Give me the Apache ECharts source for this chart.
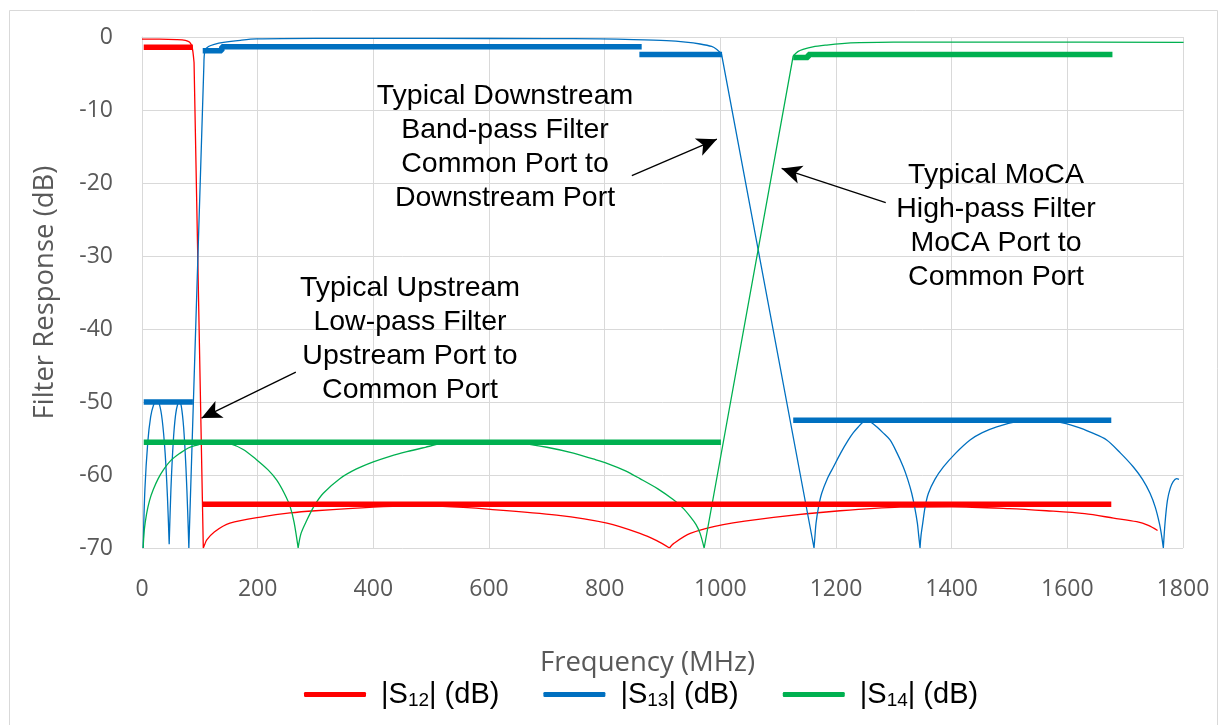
<!DOCTYPE html>
<html>
<head>
<meta charset="utf-8">
<script src="https://cdn.jsdelivr.net/npm/echarts@6/dist/echarts.min.js"></script>
<style>
html,body{margin:0;padding:0;background:#fff;}
#c{width:1223px;height:725px;}
</style>
</head>
<body>
<div id="c"></div>
<script>
// ---------- DATA ----------
var seriesNames = ['S12', 'S13', 'S14'];
var xTicks = [0, 200, 400, 600, 800, 1000, 1200, 1400, 1600, 1800];
var yTicks = [0, -10, -20, -30, -40, -50, -60, -70];

// measured curves (thin), ['-','-'] marks a break between segments
var s12Measured = [[0,-0.3],[30,-0.3],[60,-0.35],[75,-0.45],[82,-0.7],[86,-1.2],[88,-2],[90,-3.5],['-','-'],
  [90,-3.5],[106,-70],['-','-'],
  [106,-70],[108,-69.6],[112,-68.9],[125,-67.8],[152,-66.6],[210,-65.7],[256,-65.2],[300,-64.9],[400,-64.4],[460,-64.25],[520,-64.3],[602,-64.7],[717,-65.5],[804,-66.6],[861,-68],[890,-69],[912,-70],['-','-'],
  [912,-70],[919,-69.4],[948,-68],[1005,-66.8],[1092,-65.8],[1207,-64.9],[1311,-64.4],[1400,-64.35],[1500,-64.6],[1564,-64.9],[1630,-65.3],[1680,-65.9],[1720,-66.4],[1740,-66.9],[1756,-67.6]];

var s13Measured = [[2,-70],[5,-62],[10,-55.5],[15,-52],[20,-50.4],[25,-49.8],[30,-50.3],[35,-52.5],[40,-57],[44,-63],[47,-69.5],['-','-'],
  [47,-69.5],[50,-62],[54,-55.5],[58,-51.8],[62,-50.2],[65,-50],[68,-50.6],[72,-53.5],[76,-59],[79,-65],[81,-70],['-','-'],
  [81,-70],[107,-3.8],['-','-'],
  [107,-3.8],[109,-1.8],[115,-1.3],[125,-1],[141,-0.73],[170,-0.45],[198,-0.27],[300,-0.2],[500,-0.2],[700,-0.22],[792,-0.26],[850,-0.35],[907,-0.5],[940,-0.7],[965,-0.96],[985,-1.3],[994,-1.7],[1002,-2.3],['-','-'],
  [1002,-2.3],[1162,-70],['-','-'],
  [1162,-70],[1163.5,-68.5],[1165.5,-66.6],[1170,-64.3],[1175.3,-62.5],[1185,-60.5],[1195.5,-58.9],[1208,-57],[1221.4,-55.2],[1230,-54.2],[1238.7,-53.4],[1246,-52.8],[1253,-52.55],[1261,-52.8],[1270.4,-53.4],[1281,-54.2],[1293.4,-55.2],[1305,-56.9],[1316.4,-58.9],[1324,-60.6],[1330.9,-62.5],[1336,-64.4],[1340.7,-66.6],[1343,-68.3],[1345.3,-70],['-','-'],
  [1345.3,-70],[1347,-68.3],[1350,-66.6],[1354,-64.4],[1359.8,-62.5],[1371,-60.6],[1385.7,-58.9],[1407,-57],[1431.8,-55.2],[1453,-54.2],[1477.9,-53.4],[1512,-52.7],[1547,-52.4],[1582,-52.7],[1616.2,-53.4],[1642,-54.2],[1668,-55.2],[1692,-57],[1714.2,-58.9],[1730,-60.6],[1743,-62.5],[1752,-64.4],[1759.1,-66.6],[1763,-68.3],[1766,-70],['-','-'],
  [1766,-70],[1769,-66.5],[1773,-63.5],[1778,-61.8],[1783,-60.9],[1789,-60.5],[1793,-60.6]];

var s14Measured = [[2,-70],[4,-67.5],[8,-65.3],[13,-63.5],[19.5,-62],[28,-60.5],[37,-59.3],[50,-58],[66,-57],[80,-56.3],[95,-55.9],[112,-55.5],[130,-55.5],[152,-55.7],[175,-56.5],[198,-57.9],[218,-59.3],[233,-60.7],[246,-62.5],[256,-64.3],[263,-66.5],[270,-70],['-','-'],
  [270,-70],[275,-68],[285,-66.2],[298,-64.2],[313.5,-62.5],[342,-60.5],[370,-59.2],[400,-58.2],[430,-57.4],[458,-56.8],[490,-56.2],[515,-55.75],[545,-55.55],[573,-55.5],[615,-55.5],[659,-55.7],[700,-56.2],[746,-57],[780,-57.8],[804,-58.4],[835,-59.4],[861,-60.5],[892,-61.9],[919,-63.4],[935,-64.5],[948,-65.7],[958,-66.8],[965,-68],[972,-70],['-','-'],
  [972,-70],[1126,-2.6],['-','-'],
  [1126,-2.6],[1134,-2],[1143,-1.7],[1160,-1.35],[1184,-1.1],[1210,-0.9],[1241,-0.78],[1299,-0.7],[1500,-0.7],[1801,-0.73]];

// typical limits (thick)
var s12Limit = [[3,-1.4],[88,-1.4],['-','-'],[105,-64],[1676,-64]];
var s13Limit = [[3,-50],[88,-50],['-','-'],[105,-1.9],[138,-1.9],[138,-1.35],[864,-1.35],['-','-'],[860,-2.4],[1003,-2.4],['-','-'],[1126,-52.5],[1676,-52.5]];
var s14Limit = [[3,-55.5],[1001,-55.5],['-','-'],[1126,-2.8],[1152,-2.8],[1152,-2.4],[1678,-2.4]];

// annotations: [tail], [head] in data units
var arrowDown = [[847,-19.0],[994,-14.0]];
var arrowMoca = [[1286,-22.7],[1106,-18.0]];
var arrowUp = [[266,-45.9],[103,-52.2]];
var noteDown = ['Typical Downstream','Band-pass Filter','Common Port to','Downstream Port'];
var noteMoca = ['Typical MoCA','High-pass Filter','MoCA Port to','Common Port'];
var noteUp = ['Typical Upstream','Low-pass Filter','Upstream Port to','Common Port'];

var colors = {S12:'#FF0000', S13:'#0070C0', S14:'#00B050'};
var labelFont = '"Open Sans", "Liberation Sans", sans-serif';
var noteFont = '"Liberation Sans", Arial, sans-serif';

// ---------- CHART ----------
var chart = echarts.init(document.getElementById('c'), null, {renderer:'canvas'});

function thin(name, data){
  return {name:name, type:'line', data:data, showSymbol:false, symbol:'none', smooth:0.3,
    connectNulls:false, lineStyle:{width:1.3, color:colors[name]}, itemStyle:{color:colors[name]},
    z:3, animation:false, silent:true};
}
function thick(name, data){
  return {name:name+'_limit', type:'line', data:data, showSymbol:false, symbol:'none',
    connectNulls:false, lineStyle:{width:5.5, color:colors[name], cap:'butt'}, itemStyle:{color:colors[name]},
    z:4, animation:false, silent:true};
}
function arrowLine(pts){
  return [{coord:pts[0], symbol:'none'}, {coord:pts[1], symbol:'arrow'}];
}
function note(lines, cx, cy){
  return {type:'text', x:cx, y:cy, style:{text:lines.join('\n'), font:'28.5px '+noteFont,
    fill:'#000', textAlign:'center', textVerticalAlign:'middle', lineHeight:34}, z:10, silent:true};
}

var option = {
  backgroundColor:'#fff',
  animation:false,
  grid:{left:142, right:40, top:37, bottom:177, containLabel:false},
  xAxis:{type:'value', min:0, max:1800, interval:200,
    name:'Frequency (MHz)', nameLocation:'middle', nameGap:101,
    nameTextStyle:{fontFamily:labelFont, fontSize:27.5, color:'#595959', padding:[0,30,0,0]},
    axisLine:{show:true, lineStyle:{color:'#d9d9d9', width:1}},
    axisTick:{show:false},
    axisLabel:{margin:30, fontFamily:labelFont, fontSize:23, color:'#595959',
      formatter:function(v){ return xTicks.indexOf(v)>=0 ? String(v) : ''; }},
    splitLine:{show:true, lineStyle:{color:'#d9d9d9', width:1}}
  },
  yAxis:{type:'value', min:-70, max:0, interval:10,
    name:'Filter Response (dB)', nameLocation:'middle', nameGap:83, nameRotate:90,
    nameTextStyle:{fontFamily:labelFont, fontSize:27.5, color:'#595959'},
    axisLine:{show:true, lineStyle:{color:'#d9d9d9', width:1}},
    axisTick:{show:false},
    axisLabel:{margin:29, fontFamily:labelFont, fontSize:23, color:'#595959',
      formatter:function(v){ return yTicks.indexOf(v)>=0 ? String(v) : ''; }},
    splitLine:{show:true, lineStyle:{color:'#d9d9d9', width:1}}
  },
  legend:{
    data:seriesNames, left:299, top:675, orient:'horizontal',
    icon:'roundRect', itemWidth:62, itemHeight:5, itemGap:44,
    formatter:function(n){ return '|S{sub|'+n.slice(1)+'}| (dB)'; },
    textStyle:{fontFamily:noteFont, fontSize:29, color:'#000', padding:[0,0,0,10],
      rich:{sub:{fontFamily:noteFont, fontSize:19, color:'#000', verticalAlign:'bottom', padding:[12,0,0,0]}}}
  },
  series:[
    thin('S12', s12Measured),
    thin('S13', s13Measured),
    thin('S14', s14Measured),
    thick('S12', s12Limit),
    thick('S13', s13Limit),
    thick('S14', s14Limit),
    {name:'annotations', type:'line', data:[], silent:true, animation:false,
      markLine:{silent:true, symbolSize:[14,20], label:{show:false},
        lineStyle:{color:'#000', width:1.3, type:'solid'}, emphasis:{disabled:true},
        data:[arrowLine(arrowDown), arrowLine(arrowMoca), arrowLine(arrowUp)]}}
  ],
  graphic:[
    {type:'rect', left:7, top:8, shape:{width:1208, height:740}, style:{fill:null, stroke:'#d9d9d9', lineWidth:1}, z:-1, silent:true},
    note(noteDown, 505, 147),
    note(noteMoca, 996, 226),
    note(noteUp, 410, 339)
  ]
};
chart.setOption(option);
</script>
</body>
</html>
